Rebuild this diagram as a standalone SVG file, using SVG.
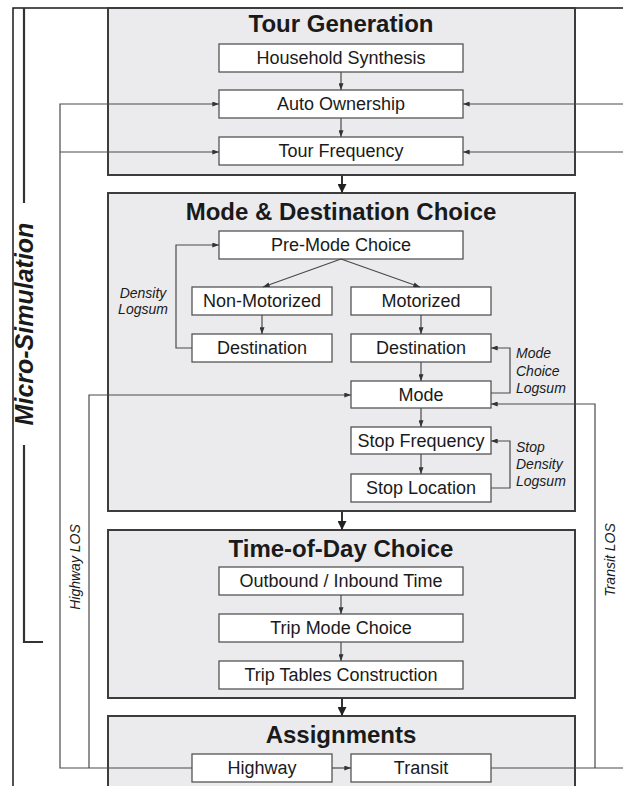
<svg xmlns="http://www.w3.org/2000/svg" width="623" height="786" viewBox="0 0 623 786">
<defs>
<style>
.panel{fill:#ebebed;stroke:#3c3c3c;stroke-width:2}
.box{fill:#ffffff;stroke:#555;stroke-width:1.3}
.t{font-family:"Liberation Sans",Arial,sans-serif;font-size:18px;fill:#1a1a1a;text-anchor:middle}
.h{font-family:"Liberation Sans",Arial,sans-serif;font-size:24px;font-weight:bold;fill:#1a1a1a;text-anchor:middle}
.i{font-family:"Liberation Sans",Arial,sans-serif;font-size:14px;font-style:italic;fill:#1a1a1a}
.ln{fill:none;stroke:#4a4a4a;stroke-width:1.2}
.thk{fill:none;stroke:#333;stroke-width:2}
.frame{fill:none;stroke:#1a1a1a;stroke-width:1.5}
</style>
<marker id="a" viewBox="0 0 8 6" refX="8" refY="3" markerWidth="7" markerHeight="5" markerUnits="userSpaceOnUse" orient="auto"><path d="M0,0 L8,3 L0,6 Z" fill="#333"/></marker>
<marker id="b" viewBox="0 0 8 8" refX="8" refY="4" markerWidth="9" markerHeight="9" markerUnits="userSpaceOnUse" orient="auto"><path d="M0,0 L8,4 L0,8 Z" fill="#222"/></marker>
</defs>
<rect width="623" height="786" fill="#ffffff"/>

<g id="frame">
<path class="frame" d="M13,786 V8 H623"/>
<path d="M24,8 V203" fill="none" stroke="#333" stroke-width="2.2"/>
<path d="M24,445 V642 H43" fill="none" stroke="#333" stroke-width="2.2"/>
<text class="i" transform="translate(33,324) rotate(-90)" text-anchor="middle" style="font-size:25px;font-weight:bold">Micro-Simulation</text>
</g>

<g id="panel-tour-generation">
<rect class="panel" x="108" y="8" width="467" height="167"/>
<text class="h" x="341" y="32">Tour Generation</text>
</g>
<g id="panel-mode-destination">
<rect class="panel" x="108" y="193" width="467" height="318"/>
<text class="h" x="341" y="220">Mode &amp; Destination Choice</text>
</g>
<g id="panel-time-of-day">
<rect class="panel" x="108" y="530" width="467" height="168"/>
<text class="h" x="341" y="557">Time-of-Day Choice</text>
</g>
<g id="panel-assignments">
<rect class="panel" x="108" y="716" width="467" height="80"/>
<text class="h" x="341" y="743">Assignments</text>
</g>

<g id="household-synthesis"><rect class="box" x="219" y="44" width="244" height="28"/><text class="t" x="341" y="63.5">Household Synthesis</text></g>
<g id="auto-ownership"><rect class="box" x="219" y="90" width="244" height="28"/><text class="t" x="341" y="110">Auto Ownership</text></g>
<g id="tour-frequency"><rect class="box" x="219" y="137" width="244" height="28"/><text class="t" x="341" y="157">Tour Frequency</text></g>

<g id="pre-mode-choice"><rect class="box" x="219" y="231" width="244" height="28"/><text class="t" x="341" y="251">Pre-Mode Choice</text></g>
<g id="non-motorized"><rect class="box" x="192" y="287" width="140" height="28"/><text class="t" x="262" y="307">Non-Motorized</text></g>
<g id="motorized"><rect class="box" x="351" y="287" width="140" height="28"/><text class="t" x="421" y="307">Motorized</text></g>
<g id="destination-nm"><rect class="box" x="192" y="334" width="140" height="28"/><text class="t" x="262" y="354">Destination</text></g>
<g id="destination-m"><rect class="box" x="351" y="334" width="140" height="28"/><text class="t" x="421" y="354">Destination</text></g>
<g id="mode"><rect class="box" x="351" y="381" width="140" height="27"/><text class="t" x="421" y="401">Mode</text></g>
<g id="stop-frequency"><rect class="box" x="351" y="427" width="140" height="27"/><text class="t" x="421" y="447">Stop Frequency</text></g>
<g id="stop-location"><rect class="box" x="351" y="474" width="140" height="28"/><text class="t" x="421" y="494">Stop Location</text></g>

<g id="outbound-inbound"><rect class="box" x="219" y="567" width="244" height="28"/><text class="t" x="341" y="587">Outbound / Inbound Time</text></g>
<g id="trip-mode-choice"><rect class="box" x="219" y="614" width="244" height="28"/><text class="t" x="341" y="634">Trip Mode Choice</text></g>
<g id="trip-tables"><rect class="box" x="219" y="661" width="244" height="28"/><text class="t" x="341" y="681">Trip Tables Construction</text></g>

<g id="highway"><rect class="box" x="192" y="754" width="140" height="28"/><text class="t" x="262" y="774">Highway</text></g>
<g id="transit"><rect class="box" x="351" y="754" width="140" height="28"/><text class="t" x="421" y="774">Transit</text></g>

<g id="connectors">
<path class="ln" d="M341,72 V90" marker-end="url(#a)"/>
<path class="ln" d="M341,118 V137" marker-end="url(#a)"/>
<path class="thk" d="M342,175 V193" marker-end="url(#b)"/>
<path class="ln" d="M341,259 L263,287" marker-end="url(#a)"/>
<path class="ln" d="M341,259 L420,287" marker-end="url(#a)"/>
<path class="ln" d="M262,315 V334" marker-end="url(#a)"/>
<path class="ln" d="M421,315 V334" marker-end="url(#a)"/>
<path class="ln" d="M421,362 V381" marker-end="url(#a)"/>
<path class="ln" d="M421,408 V427" marker-end="url(#a)"/>
<path class="ln" d="M421,454 V474" marker-end="url(#a)"/>
<path class="ln" d="M192,348 H176 V245 H219" marker-end="url(#a)"/>
<path class="ln" d="M491,393 H510 V348 H491" marker-end="url(#a)"/>
<path class="ln" d="M491,488 H510 V441 H491" marker-end="url(#a)"/>
<path class="thk" d="M342,511 V530" marker-end="url(#b)"/>
<path class="ln" d="M341,595 V614" marker-end="url(#a)"/>
<path class="ln" d="M341,642 V661" marker-end="url(#a)"/>
<path class="thk" d="M342,698 V716" marker-end="url(#b)"/>
<path class="ln" d="M332,768 H351" marker-end="url(#a)"/>
<path class="ln" d="M192,768 H60 V104 H219" marker-end="url(#a)"/>
<path class="ln" d="M60,152 H219" marker-end="url(#a)"/>
<path class="ln" d="M89,768 V395 H351" marker-end="url(#a)"/>
<path class="ln" d="M623,104 H463" marker-end="url(#a)"/>
<path class="ln" d="M623,152 H463" marker-end="url(#a)"/>
<path class="ln" d="M491,768 H623"/>
<path class="ln" d="M595,768 V404 H491" marker-end="url(#a)"/>
</g>

<g id="labels">
<text class="i" x="143" y="298" text-anchor="middle">Density</text>
<text class="i" x="143" y="314" text-anchor="middle">Logsum</text>
<text class="i" x="516" y="358">Mode</text>
<text class="i" x="516" y="376">Choice</text>
<text class="i" x="516" y="393">Logsum</text>
<text class="i" x="516" y="452">Stop</text>
<text class="i" x="516" y="469">Density</text>
<text class="i" x="516" y="486">Logsum</text>
<text class="i" transform="translate(80,567) rotate(-90)" text-anchor="middle">Highway LOS</text>
<text class="i" transform="translate(615,560) rotate(-90)" text-anchor="middle">Transit LOS</text>
</g>
</svg>
